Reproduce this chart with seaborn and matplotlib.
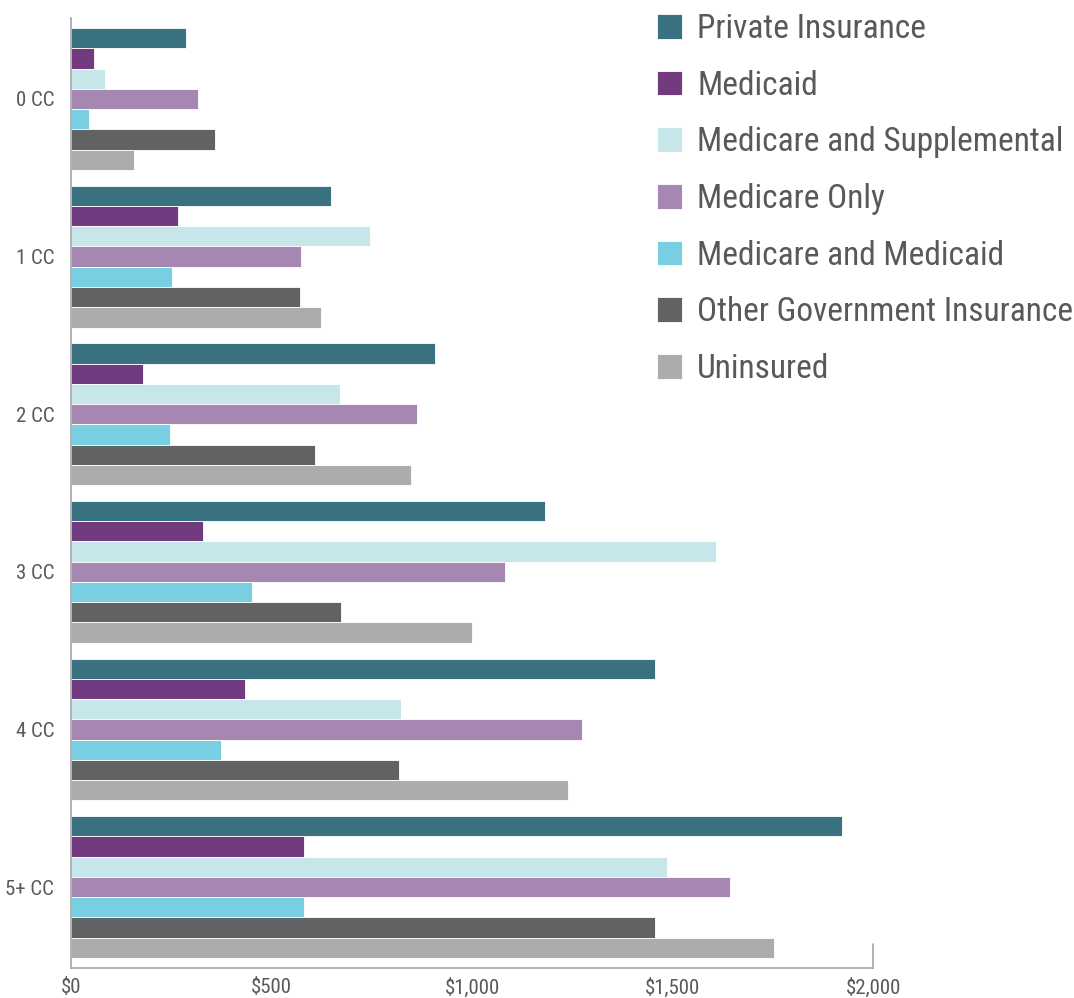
import matplotlib
matplotlib.use('Agg')
import matplotlib.pyplot as plt
from matplotlib import font_manager
import seaborn as sns
import pandas as pd

# values (annual cost in $ by number of chronic conditions)
categories = ['0 CC', '1 CC', '2 CC', '3 CC', '4 CC', '5+ CC']
coverage = ['Private Insurance', 'Medicaid', 'Medicare and Supplemental',
            'Medicare Only', 'Medicare and Medicaid',
            'Other Government Insurance', 'Uninsured']

private_ins = [286, 648, 907, 1183, 1457, 1923]
medicaid = [57, 266, 179, 330, 433, 580]
medicare_supp = [85, 745, 670, 1607, 822, 1486]
medicare_only = [316, 573, 864, 1083, 1275, 1643]
medicare_medicaid = [45, 252, 247, 451, 374, 581]
other_gov = [359, 570, 608, 674, 817, 1457]
uninsured = [157, 623, 847, 1000, 1239, 1754]

xticks = [0, 500, 1000, 1500, 2000]
xtick_labels = ['$0', '$500', '$1,000', '$1,500', '$2,000']

palette = {
    'Private Insurance': '#3a7282',
    'Medicaid': '#723b80',
    'Medicare and Supplemental': '#c6e6e9',
    'Medicare Only': '#a687b1',
    'Medicare and Medicaid': '#78cfe2',
    'Other Government Insurance': '#616264',
    'Uninsured': '#abacae',
}

series = [private_ins, medicaid, medicare_supp, medicare_only,
          medicare_medicaid, other_gov, uninsured]
rows = []
for name, vals in zip(coverage, series):
    for cat, v in zip(categories, vals):
        rows.append({'CC': cat, 'Coverage': name, 'Cost': v})
df = pd.DataFrame(rows)

sns.set_style('white')

# narrow font if there is one
available = {f.name for f in font_manager.fontManager.ttflist}
family = 'DejaVu Sans'
for cand in ['Roboto Condensed', 'Liberation Sans Narrow', 'DejaVu Sans Condensed']:
    if cand in available:
        family = cand
        break
plt.rcParams['font.family'] = [family, 'DejaVu Sans']
text_gray = '#58595b'
axis_gray = '#a3a4a6'

fig = plt.figure(figsize=(10.74, 9.98), dpi=100)
ax = fig.add_axes([0.066, 0.030, 0.747, 0.952])

sns.barplot(data=df, y='CC', x='Cost', hue='Coverage', order=categories,
            hue_order=coverage, palette=palette, orient='h', width=0.9,
            saturation=1, edgecolor='white', linewidth=0.6, ax=ax, legend=True)

ax.set_xlim(0, 2000)
ax.set_ylim(len(categories) - 0.486, -0.514)
ax.set_xticks(xticks)
ax.set_xticklabels(xtick_labels)
ax.set_xlabel('')
ax.set_ylabel('')
ax.tick_params(axis='x', direction='in', length=8, width=1, color=axis_gray,
               labelsize=15, labelcolor=text_gray, pad=7)
ax.tick_params(axis='y', length=0, labelsize=15, labelcolor=text_gray, pad=12)

for side in ['top', 'right']:
    ax.spines[side].set_visible(False)
for side in ['left', 'bottom']:
    ax.spines[side].set_color(axis_gray)
    ax.spines[side].set_linewidth(1.2)
ax.axvline(2000, ymin=0, ymax=0.025, color=axis_gray, lw=1.2, clip_on=False)

handles, labels = ax.get_legend_handles_labels()
ax.get_legend().remove()
fig.legend(handles, labels, loc='upper left', bbox_to_anchor=(0.612, 0.987),
           frameon=False, fontsize=24, labelcolor=text_gray,
           handlelength=0.75, handleheight=0.75, handletextpad=0.45,
           labelspacing=0.74, borderpad=0, borderaxespad=0)

fig.savefig('out.png', dpi=100, facecolor='white')
